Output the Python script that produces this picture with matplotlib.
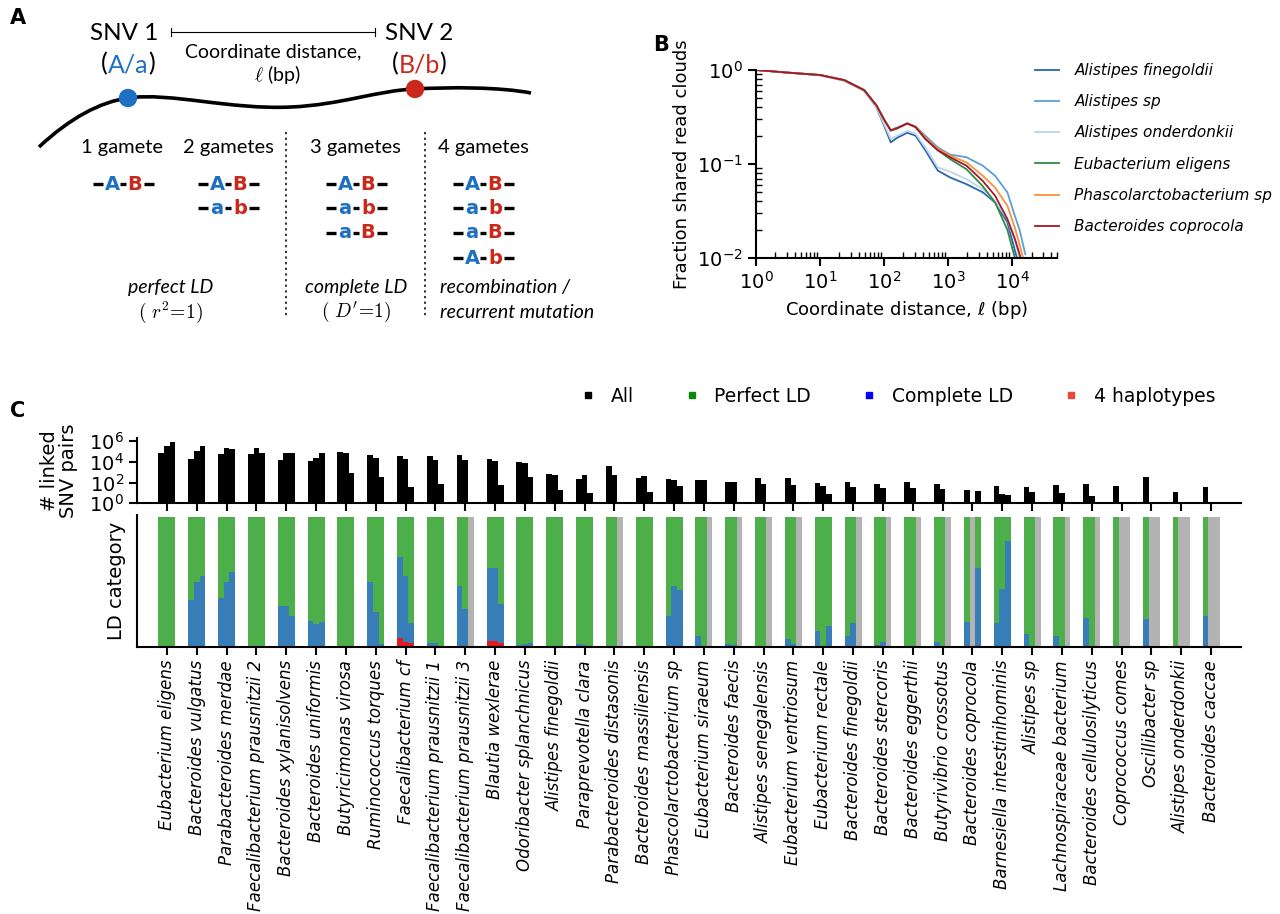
import numpy as np
import matplotlib.pyplot as plt
from matplotlib.path import Path
from matplotlib.patches import PathPatch, Circle
from matplotlib.lines import Line2D

# ---------------- data: panel C ----------------
species = ["Eubacterium eligens", "Bacteroides vulgatus", "Parabacteroides merdae",
           "Faecalibacterium prausnitzii 2", "Bacteroides xylanisolvens", "Bacteroides uniformis",
           "Butyricimonas virosa", "Ruminococcus torques", "Faecalibacterium cf",
           "Faecalibacterium prausnitzii 1", "Faecalibacterium prausnitzii 3", "Blautia wexlerae",
           "Odoribacter splanchnicus", "Alistipes finegoldii", "Paraprevotella clara",
           "Parabacteroides distasonis", "Bacteroides massiliensis", "Phascolarctobacterium sp",
           "Eubacterium siraeum", "Bacteroides faecis", "Alistipes senegalensis",
           "Eubacterium ventriosum", "Eubacterium rectale", "Bacteroides finegoldii",
           "Bacteroides stercoris", "Bacteroides eggerthii", "Butyrivibrio crossotus",
           "Bacteroides coprocola", "Barnesiella intestinihominis", "Alistipes sp",
           "Lachnospiraceae bacterium", "Bacteroides cellulosilyticus", "Coprococcus comes",
           "Oscillibacter sp", "Alistipes onderdonkii", "Bacteroides caccae"]

nan = np.nan
# number of linked SNV pairs in three distance bins (nan = no data)
pairs_bin1 = [6.5e4, 2.1e4, 5.5e4, 5.5e4, 1.5e4, 1.1e4, 9.3e4, 4.8e4, 4.0e4, 4.0e4, 4.8e4, 1.7e4,
              9300, 660, 200, 3900, 250, 220, 175, 110, 275, 250, 90, 120,
              72, 120, 72, 19, 43, 35, 62, 78, 43, 320, 12, 35]
pairs_bin2 = [3.5e5, 1.1e5, 2.1e5, 2.1e5, 6.5e4, 2.6e4, 6.9e4, 2.3e4, 2.1e4, 1.5e4, 1.5e4, 1.1e4,
              7100, 575, 575, 525, 430, 175, 160, 110, 72, 62, 43, 35,
              30, 28, 22, nan, 8.5, 12, 11, 5.5, nan, nan, nan, nan]
pairs_bin3 = [7.4e5, 3.5e5, 1.7e5, 7.4e4, 6.5e4, 6.5e4, 830, 360, 35, 80, nan, 62,
              320, 19, 10, nan, 13, 47, nan, nan, nan, nan, 8, nan,
              nan, nan, nan, 15, 6.3, nan, nan, nan, nan, nan, nan, nan]

# fraction of pairs in complete LD (3 gametes)
complete_bin1 = [0, 0.357, 0.376, 0, 0.313, 0.2, 0, 0.5, 0.627, 0.026, 0.466, 0.568,
                 0.013, 0.005, 0.02, 0.005, 0.007, 0.24, 0.08, 0.02, 0.005, 0.06, 0.12, 0.085,
                 0.01, 0.004, 0.04, 0.19, 0.18, 0.10, 0.08, 0.223, 0, 0.215, 0, 0.236]
complete_bin2 = [0, 0.5, 0.5, 0, 0.313, 0.176, 0, 0.267, 0.513, 0.03, 0.293, 0.562,
                 0.018, 0.004, 0.01, 0.004, 0.005, 0.466, 0.008, 0.01, 0.004, 0.02, 0.008, 0.184,
                 0.036, 0.004, 0.008, 0, 0.448, 0, 0, 0, 0, 0, 0, 0]
complete_bin3 = [0, 0.547, 0.578, 0, 0.233, 0.194, 0, 0.02, 0.156, 0.008, 0, 0.295,
                 0.026, 0.005, 0.005, 0, 0.005, 0.44, 0, 0, 0, 0, 0.163, 0,
                 0, 0, 0, 0.609, 0.816, 0, 0, 0, 0, 0, 0, 0]
# fraction of pairs with 4 haplotypes
hap4_bin1 = [0] * 8 + [0.067, 0, 0, 0.041] + [0] * 24
hap4_bin2 = [0] * 8 + [0.034, 0, 0, 0.047] + [0] * 24
hap4_bin3 = [0] * 8 + [0.028, 0, 0, 0.031] + [0] * 24

# ---------------- data: panel B ----------------
distance = [1, 3, 10, 24, 49, 76, 99, 127, 160, 230, 310, 440, 690, 1070, 1930, 3470,
            5400, 8400, 11000, 13000, 16000]
curve_names = ["Alistipes finegoldii", "Alistipes sp", "Alistipes onderdonkii",
               "Eubacterium eligens", "Phascolarctobacterium sp", "Bacteroides coprocola"]
curve_colors = ["#2a64ad", "#5b9fd6", "#bcd6ea", "#2e8b46", "#f6913e", "#a3182b"]
frac_finegoldii = [1.0, 0.94, 0.88, 0.77, 0.60, 0.40, 0.26, 0.17, 0.19, 0.215, 0.20, 0.14,
                   0.085, 0.072, 0.061, 0.05, 0.039, 0.024, 0.012, 0.008, 0.005]
frac_sp = [1.0, 0.94, 0.885, 0.78, 0.61, 0.42, 0.30, 0.23, 0.245, 0.27, 0.25, 0.20,
           0.15, 0.126, 0.118, 0.096, 0.075, 0.05, 0.028, 0.02, 0.011]
frac_onderdonkii = [1.0, 0.94, 0.88, 0.77, 0.60, 0.40, 0.27, 0.185, 0.20, 0.225, 0.21, 0.15,
                    0.092, 0.083, 0.069, 0.054, 0.04, 0.026, 0.015, 0.01, 0.006]
frac_eligens = [1.0, 0.94, 0.885, 0.78, 0.61, 0.42, 0.30, 0.227, 0.24, 0.27, 0.247, 0.185,
                0.14, 0.113, 0.088, 0.058, 0.039, 0.02, 0.01, 0.006, 0.004]
frac_phascolarcto = [1.0, 0.94, 0.885, 0.78, 0.61, 0.42, 0.30, 0.227, 0.24, 0.27, 0.25, 0.19,
                     0.145, 0.123, 0.104, 0.075, 0.056, 0.036, 0.021, 0.014, 0.008]
frac_coprocola = [1.0, 0.94, 0.885, 0.78, 0.61, 0.42, 0.30, 0.227, 0.24, 0.27, 0.247, 0.185,
                  0.14, 0.118, 0.096, 0.066, 0.046, 0.026, 0.016, 0.011, 0.006]
curves = [frac_finegoldii, frac_sp, frac_onderdonkii, frac_eligens, frac_phascolarcto, frac_coprocola]

GREEN, BLUE, RED, GREY = "#4daf4a", "#377eb8", "#e41a1c", "#b3b3b3"
A_BLUE, A_RED = "#1f6fc2", "#c9281b"

fig = plt.figure(figsize=(12.8, 9.14), dpi=100)

# ---------------- panel A (schematic, pixel coords) ----------------
axa = fig.add_axes([0, 0, 1, 1], zorder=0)
axa.set_xlim(0, 1280)
axa.set_ylim(914, 0)
axa.axis("off")
fa = "Lato"

axa.text(10, 18, "A", fontsize=15, fontweight="bold", ha="left", va="center", family="DejaVu Sans")
axa.text(661, 45, "B", fontsize=15, fontweight="bold", ha="center", va="center", family="DejaVu Sans")
axa.text(10, 411, "C", fontsize=15, fontweight="bold", ha="left", va="center", family="DejaVu Sans")

axa.text(124, 33, "SNV 1", fontsize=17.5, ha="center", va="center", family=fa)
axa.text(419, 33, "SNV 2", fontsize=17.5, ha="center", va="center", family=fa)
axa.plot([171, 375], [32, 32], color="k", lw=0.8)
axa.plot([171, 171], [28, 36], color="k", lw=0.8)
axa.plot([375, 375], [28, 36], color="k", lw=0.8)
axa.text(273, 52, "Coordinate distance,", fontsize=14, ha="center", va="center", family=fa)
axa.text(277, 75, r"$\ell$ (bp)", fontsize=14, ha="center", va="center", family=fa,
         math_fontfamily="cm")

for cx, lab, col in [(128, "A/a", A_BLUE), (419, "B/b", A_RED)]:
    axa.text(cx - 24, 64, "(", fontsize=18, ha="center", va="center", family=fa)
    axa.text(cx, 65, lab, fontsize=18, ha="center", va="center", family=fa, color=col)
    axa.text(cx + 24, 64, ")", fontsize=18, ha="center", va="center", family=fa)

verts = [(39, 147), (70, 118), (100, 102), (128, 98),
         (170, 92), (230, 110), (291, 107),
         (340, 105), (380, 90), (415, 89),
         (450, 87), (500, 87), (531, 93)]
codes = [Path.MOVETO] + [Path.CURVE4] * 12
axa.add_patch(PathPatch(Path(verts, codes), fill=False, lw=2.6, color="k"))
axa.add_patch(Circle((128, 98), 8.5, color=A_BLUE, zorder=5))
axa.add_patch(Circle((415, 89), 8.5, color=A_RED, zorder=5))

for cx, lab in [(122, "1 gamete"), (228, "2 gametes"), (355, "3 gametes"), (483, "4 gametes")]:
    axa.text(cx, 148, lab, fontsize=14.5, ha="center", va="center", family=fa)

for xv in (286, 425):
    axa.plot([xv, xv], [132, 318], color="k", lw=1.1, ls=(0, (1.5, 2.2)))

rows_y = [184, 208, 233, 258]
columns = [(123, ["AB"]), (228, ["AB", "ab"]), (356, ["AB", "ab", "aB"]), (483, ["AB", "ab", "aB", "Ab"])]
for cx, haps in columns:
    for y, h in zip(rows_y, haps):
        for x0, x1 in [(cx - 30, cx - 20), (cx - 3, cx + 3), (cx + 21, cx + 31)]:
            axa.plot([x0, x1], [y, y], color="k", lw=2.4, solid_capstyle="butt")
        axa.text(cx - 11, y, h[0], fontsize=14, fontweight="bold", color=A_BLUE,
                 ha="center", va="center", family="DejaVu Sans")
        axa.text(cx + 12, y, h[1], fontsize=14, fontweight="bold", color=A_RED,
                 ha="center", va="center", family="DejaVu Sans")

axa.text(171, 288, "perfect LD", fontsize=14, style="italic", ha="center", va="center", family=fa)
axa.text(171, 312, r"$(\ r^2\!=\!1)$", fontsize=14, ha="center", va="center", math_fontfamily="cm")
axa.text(356, 288, "complete LD", fontsize=14, style="italic", ha="center", va="center", family=fa)
axa.text(356, 312, r"$(\ D'\!=\!1)$", fontsize=14, ha="center", va="center", math_fontfamily="cm")
axa.text(440, 288, "recombination /", fontsize=14, style="italic", ha="left", va="center", family=fa)
axa.text(440, 312, "recurrent mutation", fontsize=14, style="italic", ha="left", va="center", family=fa)

# ---------------- panel B ----------------
axb = fig.add_axes([756 / 1280, 1 - 258 / 914, 301 / 1280, 188 / 914])
for name, col, fr in zip(curve_names, curve_colors, curves):
    axb.plot(distance, fr, color=col, lw=1.3, label=name)
axb.set_xscale("log")
axb.set_yscale("log")
axb.set_xlim(1, 5e4)
axb.set_ylim(1e-2, 1.0)
for s in ("top", "right"):
    axb.spines[s].set_visible(False)
for s in ("left", "bottom"):
    axb.spines[s].set_linewidth(1.5)
axb.tick_params(which="major", labelsize=14, length=6, width=1.5)
axb.tick_params(which="minor", direction="in", length=4, width=1)
axb.set_xticks([1, 10, 100, 1000, 10000])
axb.set_xlabel(r"Coordinate distance, $\ell$ (bp)", fontsize=13)
axb.set_ylabel("Fraction shared read clouds", fontsize=13)
axb.legend(loc="upper left", bbox_to_anchor=(0.88, 1.11), frameon=False, prop={"style": "italic", "size": 11},
           handlelength=1.6, handletextpad=1.0, labelspacing=1.06)

# ---------------- panel C ----------------
x = np.arange(len(species))
offsets = [-0.19, 0.0, 0.19]
w = 0.19
left, width = 137 / 1280, 1104 / 1280
axc1 = fig.add_axes([left, 1 - 503.3 / 914, width, 65.3 / 914])
axc2 = fig.add_axes([left, 1 - 646.7 / 914, width, 131.7 / 914])

bins = [(pairs_bin1, complete_bin1, hap4_bin1),
        (pairs_bin2, complete_bin2, hap4_bin2),
        (pairs_bin3, complete_bin3, hap4_bin3)]
for off, (pairs, comp, hap) in zip(offsets, bins):
    pairs = np.array(pairs, float)
    comp = np.array(comp, float)
    hap = np.array(hap, float)
    ok = ~np.isnan(pairs)
    xs = x + off
    axc1.bar(xs[ok], pairs[ok], width=w, color="k", lw=0)
    perf = 1 - comp - hap
    axc2.bar(xs[ok], hap[ok], width=w, color=RED, lw=0)
    axc2.bar(xs[ok], comp[ok], bottom=hap[ok], width=w, color=BLUE, lw=0)
    axc2.bar(xs[ok], perf[ok], bottom=(hap + comp)[ok], width=w, color=GREEN, lw=0)
    axc2.bar(xs[~ok], np.ones((~ok).sum()), width=w, color=GREY, lw=0)

axc1.set_yscale("log")
axc1.set_ylim(1, 2e6)
axc1.set_yticks([1, 1e2, 1e4, 1e6])
axc1.minorticks_off()
axc2.set_ylim(0, 1.015)
axc2.set_yticks([])
for axx in (axc1, axc2):
    axx.set_xlim(-1, 36)
    axx.set_xticks(x)
    for s in ("top", "right"):
        axx.spines[s].set_visible(False)
    for s in ("left", "bottom"):
        axx.spines[s].set_linewidth(1.5)
    axx.tick_params(length=6, width=1.5, labelsize=14)
axc1.set_xticklabels([])
axc2.set_xticklabels(species, rotation=90, style="italic", fontsize=12)
axc1.set_ylabel("# linked\nSNV pairs", fontsize=14, linespacing=1.0, labelpad=8)
axc2.set_ylabel("LD category", fontsize=14, labelpad=8)

handles = [Line2D([], [], marker="s", ls="", color=c, markersize=5)
           for c in ("k", "#0a8a0a", "#0000ff", "#e8493a")]
fig.legend(handles, ["All", "Perfect LD", "Complete LD", "4 haplotypes"], loc="center left",
           bbox_to_anchor=(562 / 1280, 1 - 396 / 914), ncol=4, frameon=False, fontsize=13.5,
           handlelength=1.0, handletextpad=0.7, columnspacing=2.6)

fig.savefig("out.png", dpi=100)
